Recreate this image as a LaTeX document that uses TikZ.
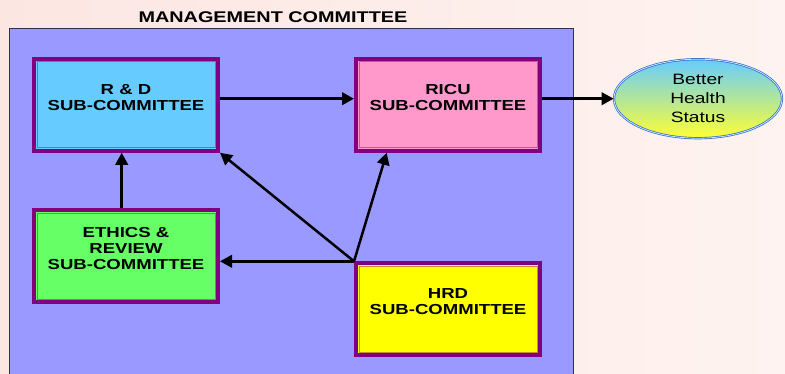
\documentclass[tikz,border=0pt]{standalone}
\usepackage{fontspec}
\setmainfont{Liberation Sans}[FakeStretch=1.28]
\usetikzlibrary{arrows.meta, positioning, shapes.geometric}
\definecolor{bgpink}{RGB}{252,230,226}
\definecolor{bglight}{RGB}{254,243,240}
\definecolor{mgmtfill}{RGB}{153,153,255}
\definecolor{mgmtline}{RGB}{48,48,72}
\definecolor{boxpurple}{RGB}{128,0,128}
\definecolor{rdblue}{RGB}{102,204,255}
\definecolor{ricupink}{RGB}{255,153,204}
\definecolor{ethgreen}{RGB}{102,255,102}
\definecolor{hrdyellow}{RGB}{255,255,0}
\definecolor{goalcyan}{RGB}{102,204,255}
\definecolor{goalyellow}{RGB}{255,255,51}
\definecolor{goalblue}{RGB}{51,102,204}
\tikzset{
    subbox/.style={rectangle, draw=boxpurple, line width=4pt, fill=#1, minimum width=184pt, minimum height=92pt,
        path picture={\draw[line width=0.8pt, boxpurple!45!#1] ([shift={(3pt,-3pt)}]path picture bounding box.north west) rectangle ([shift={(-3pt,3pt)}]path picture bounding box.south east);}},
    boxtext/.style={font=\bfseries\fontsize{14.5}{16.2}\selectfont, align=center, inner sep=0pt},
    titletext/.style={font=\bfseries\fontsize{15.5}{18}\selectfont, inner sep=0pt},
    goal/.style={ellipse, draw=goalblue, line width=0.7pt, double=white!60!goalcyan, double distance=0.8pt, top color=goalcyan, bottom color=goalyellow,
        minimum width=168pt, minimum height=79pt, inner sep=0pt, align=center, font=\fontsize{15}{18.8}\selectfont},
    arrow/.style={line width=2.5pt, -{Triangle[length=12pt, width=12.5pt]}}
}
\begin{document}
\begin{tikzpicture}[x=1pt, y=-1pt, node distance=1cm]
        \useasboundingbox (0,0) rectangle (785,374);
        \fill[left color=bgpink, right color=bglight] (0,0) rectangle (785,374); % Slide
        
        % Management committee frame
        \fill[mgmtfill] (9.5,28.3) rectangle (573.5,374);
        \draw[mgmtline, line width=1.5pt] (9.5,374) |- (573.5,28.3) -- (573.5,374);
        \node[titletext] (mgmt_title) at (273,17.2) {MANAGEMENT COMMITTEE};
        
        % Sub-committees
        \node[subbox=rdblue] (rd_box) at (126,104.8) {};
        \node[subbox=ricupink, right=134pt of rd_box] (ricu_box) {};
        \node[subbox=ethgreen, below=55.6pt of rd_box] (ethics_box) {};
        \node[subbox=hrdyellow, below=108.5pt of ricu_box] (hrd_box) {};
        \node[boxtext] (rd_text) at ([yshift=7.5pt]rd_box.center) {R \& D\\SUB-COMMITTEE};
        \node[boxtext] (ricu_text) at ([yshift=7.5pt]ricu_box.center) {RICU\\SUB-COMMITTEE};
        \node[boxtext] (ethics_text) at ([yshift=7.9pt]ethics_box.center) {ETHICS \&\\REVIEW\\SUB-COMMITTEE};
        \node[boxtext] (hrd_text) at ([yshift=7.7pt]hrd_box.center) {HRD\\SUB-COMMITTEE};
        
        % Outcome
        \node[goal] (health_goal) at (698,98.7) {Better\\Health\\Status};
        
        % Flows (HRD feeds the others from its corner)
        \coordinate (hub) at (hrd_box.north west);
        \draw[arrow] (rd_box.east |- health_goal.west) -- (ricu_box.west |- health_goal.west);
        \draw[arrow] (ricu_box.east |- health_goal.west) -- (health_goal.west);
        \draw[arrow] ([xshift=-4.3pt]ethics_box.north) -- ([xshift=-4.3pt]rd_box.south);
        \draw[arrow] (hub) -- (rd_box.south east);
        \draw[arrow] (hub) -- ([xshift=32.7pt]ricu_box.south west);
        \draw[arrow] (hub) -- (ethics_box.east |- hub);

    \end{tikzpicture}
\end{document}
